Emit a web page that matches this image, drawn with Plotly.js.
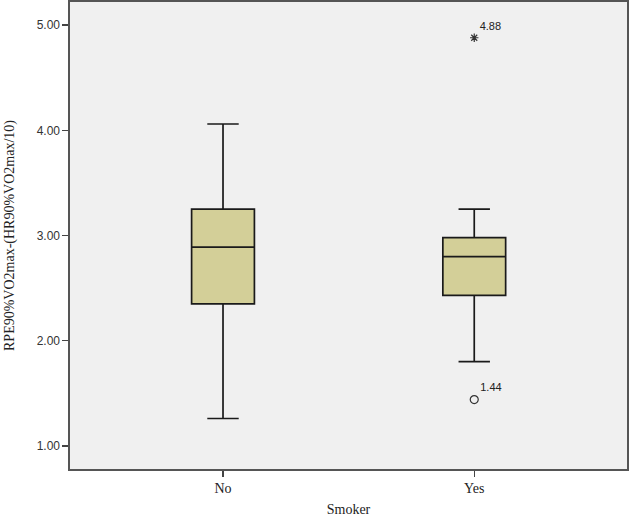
<!DOCTYPE html>
<html>
<head>
<meta charset="utf-8">
<script src="https://cdn.plot.ly/plotly-3.0.1.min.js"></script>
<style>html,body{margin:0;padding:0;background:#fff;}#chart{width:630px;height:517px;}</style>
</head>
<body>
<div id="chart"></div>
<script>
const categories = ["No", "Yes"];
const q1 = [2.35, 2.43];
const median = [2.89, 2.80];
const q3 = [3.25, 2.98];
const lowerWhisker = [1.26, 1.80];
const upperWhisker = [4.06, 3.25];
const extremeOutlier = {cat: ["Yes"], value: [4.88]};
const mildOutlier = {cat: ["Yes"], value: [1.44]};

const catIndex = c => categories.indexOf(c);

const traces = [];
categories.forEach((c, i) => {
  traces.push({
    type: "box",
    x: [i],
    q1: [q1[i]], median: [median[i]], q3: [q3[i]],
    lowerfence: [lowerWhisker[i]], upperfence: [upperWhisker[i]],
    width: 0.25,
    whiskerwidth: 0.5,
    fillcolor: "#d3cf98",
    line: {color: "#1a1a1a", width: 1.7},
    hoverinfo: "skip",
    showlegend: false
  });
});
traces.push({
  type: "scatter", mode: "markers+text",
  x: extremeOutlier.cat.map(catIndex), y: extremeOutlier.value,
  text: extremeOutlier.value.map(v => v.toFixed(2)),
  textposition: "top right",
  textfont: {family: "Liberation Sans, Arial, sans-serif", size: 11, color: "#222"},
  marker: {symbol: "asterisk-open", size: 7, color: "#333", line: {color: "#333", width: 1.2}},
  showlegend: false, hoverinfo: "skip"
});
traces.push({
  type: "scatter", mode: "markers+text",
  x: mildOutlier.cat.map(catIndex), y: mildOutlier.value,
  text: mildOutlier.value.map(v => v.toFixed(2)),
  textposition: "top right",
  textfont: {family: "Liberation Sans, Arial, sans-serif", size: 11, color: "#222"},
  marker: {symbol: "circle-open", size: 8, color: "#333", line: {color: "#333", width: 1.2}},
  showlegend: false, hoverinfo: "skip"
});

const layout = {
  width: 630, height: 517,
  margin: {l: 70, r: 3, t: 2, b: 48},
  paper_bgcolor: "#ffffff",
  plot_bgcolor: "#f0f0f0",
  xaxis: {
    range: [-0.609, 1.608],
    tickmode: "array", tickvals: categories.map((c, i) => i), ticktext: categories,
    ticks: "outside", ticklen: 6, tickcolor: "#444", tickwidth: 1.3,
    showgrid: false, zeroline: false,
    showline: true, linecolor: "#555", linewidth: 1.6, mirror: true,
    tickfont: {family: "Liberation Serif, Times New Roman, serif", size: 14, color: "#222"},
    title: {text: "Smoker", standoff: 9, font: {family: "Liberation Serif, Times New Roman, serif", size: 14, color: "#222"}}
  },
  yaxis: {
    range: [0.78, 5.22],
    tickvals: [1, 2, 3, 4, 5],
    tickformat: ".2f",
    ticks: "outside", ticklen: 6, tickcolor: "#444", tickwidth: 1.3,
    showgrid: false, zeroline: false,
    showline: true, linecolor: "#555", linewidth: 1.6, mirror: true,
    tickfont: {family: "Liberation Sans, Arial, sans-serif", size: 12, color: "#333"},
    title: {text: "RPE90%VO2max-(HR90%VO2max/10)", standoff: 19, font: {family: "Liberation Serif, Times New Roman, serif", size: 14, color: "#222"}}
  },
  showlegend: false
};

Plotly.newPlot("chart", traces, layout, {displayModeBar: false, staticPlot: true});
</script>
</body>
</html>
